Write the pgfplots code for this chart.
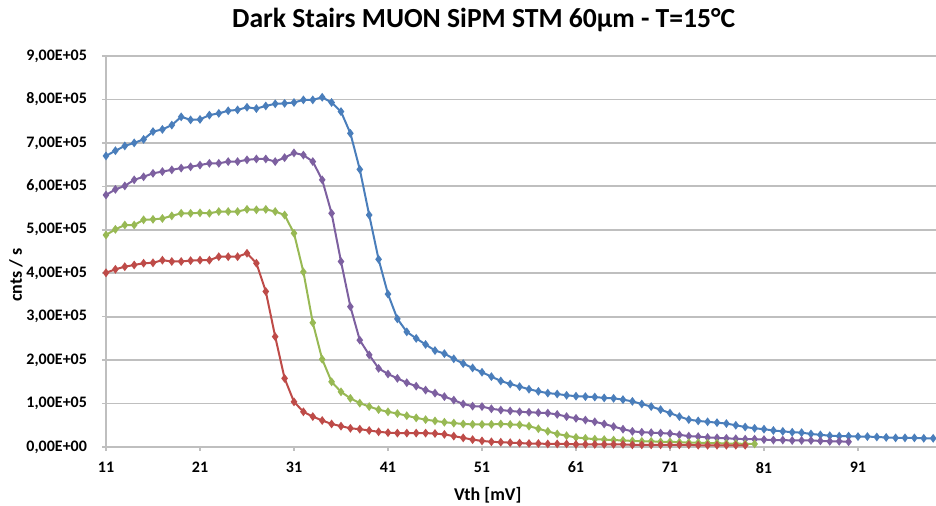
\documentclass[border=0pt]{standalone}
\usepackage{fontspec}
\setmainfont{Carlito}
\usepackage{pgfplots}
\usepackage{pgfplotstable}
\pgfplotsset{compat=1.18}

\definecolor{sblue}{HTML}{4A7EBB}
\definecolor{spurple}{HTML}{7D60A0}
\definecolor{sgreen}{HTML}{98B954}
\definecolor{sred}{HTML}{BE4B48}
\definecolor{gridgray}{HTML}{BFBFBF}

% Vth [mV]  cnts/s
\pgfplotstableread{
x y
11 6.70e5
12 6.82e5
13 6.93e5
14 7.00e5
15 7.08e5
16 7.26e5
17 7.31e5
18 7.41e5
19 7.60e5
20 7.53e5
21 7.54e5
22 7.64e5
23 7.68e5
24 7.74e5
25 7.76e5
26 7.82e5
27 7.79e5
28 7.85e5
29 7.90e5
30 7.91e5
31 7.93e5
32 7.99e5
33 7.99e5
34 8.05e5
35 7.93e5
36 7.72e5
37 7.22e5
38 6.39e5
39 5.34e5
40 4.32e5
41 3.52e5
42 2.95e5
43 2.65e5
44 2.50e5
45 2.36e5
46 2.22e5
47 2.15e5
48 2.03e5
49 1.92e5
50 1.82e5
51 1.72e5
52 1.62e5
53 1.52e5
54 1.45e5
55 1.39e5
56 1.33e5
57 1.28e5
58 1.24e5
59 1.22e5
60 1.19e5
61 1.17e5
62 1.16e5
63 1.15e5
64 1.13e5
65 1.12e5
66 1.09e5
67 1.05e5
68 0.99e5
69 0.93e5
70 0.86e5
71 0.78e5
72 0.70e5
73 0.63e5
74 0.60e5
75 0.58e5
76 0.56e5
77 0.54e5
78 0.50e5
79 0.46e5
80 0.43e5
81 0.41e5
82 0.38e5
83 0.36e5
84 0.34e5
85 0.33e5
86 0.30e5
87 0.28e5
88 0.26e5
89 0.25e5
90 0.25e5
91 0.24e5
92 0.24e5
93 0.23e5
94 0.22e5
95 0.21e5
96 0.21e5
97 0.21e5
98 0.20e5
99 0.20e5
}\blueT

\pgfplotstableread{
x y
11 5.80e5
12 5.93e5
13 6.01e5
14 6.15e5
15 6.22e5
16 6.30e5
17 6.34e5
18 6.38e5
19 6.42e5
20 6.45e5
21 6.49e5
22 6.53e5
23 6.53e5
24 6.57e5
25 6.57e5
26 6.61e5
27 6.63e5
28 6.63e5
29 6.57e5
30 6.66e5
31 6.77e5
32 6.72e5
33 6.57e5
34 6.15e5
35 5.38e5
36 4.27e5
37 3.23e5
38 2.46e5
39 2.12e5
40 1.81e5
41 1.68e5
42 1.58e5
43 1.48e5
44 1.40e5
45 1.31e5
46 1.24e5
47 1.16e5
48 1.08e5
49 0.99e5
50 0.94e5
51 0.93e5
52 0.88e5
53 0.85e5
54 0.83e5
55 0.81e5
56 0.80e5
57 0.79e5
58 0.78e5
59 0.75e5
60 0.70e5
61 0.66e5
62 0.62e5
63 0.58e5
64 0.53e5
65 0.47e5
66 0.41e5
67 0.36e5
68 0.34e5
69 0.33e5
70 0.32e5
71 0.31e5
72 0.28e5
73 0.25e5
74 0.24e5
75 0.22e5
76 0.21e5
77 0.20e5
78 0.19e5
79 0.18e5
80 0.18e5
81 0.17e5
82 0.16e5
83 0.16e5
84 0.15e5
85 0.15e5
86 0.15e5
87 0.14e5
88 0.13e5
89 0.13e5
90 0.12e5
}\purpleT

\pgfplotstableread{
x y
11 4.88e5
12 5.01e5
13 5.11e5
14 5.11e5
15 5.23e5
16 5.24e5
17 5.26e5
18 5.32e5
19 5.38e5
20 5.38e5
21 5.39e5
22 5.38e5
23 5.42e5
24 5.42e5
25 5.42e5
26 5.47e5
27 5.46e5
28 5.47e5
29 5.42e5
30 5.34e5
31 4.92e5
32 4.03e5
33 2.86e5
34 2.02e5
35 1.50e5
36 1.27e5
37 1.12e5
38 1.01e5
39 0.93e5
40 0.86e5
41 0.81e5
42 0.77e5
43 0.72e5
44 0.67e5
45 0.63e5
46 0.60e5
47 0.57e5
48 0.55e5
49 0.53e5
50 0.52e5
51 0.52e5
52 0.52e5
53 0.53e5
54 0.52e5
55 0.51e5
56 0.48e5
57 0.42e5
58 0.36e5
59 0.30e5
60 0.26e5
61 0.22e5
62 0.20e5
63 0.18e5
64 0.17e5
65 0.16e5
66 0.15e5
67 0.14e5
68 0.13e5
69 0.13e5
70 0.12e5
71 0.12e5
72 0.11e5
73 0.10e5
74 0.10e5
75 0.09e5
76 0.09e5
77 0.08e5
78 0.08e5
79 0.07e5
80 0.07e5
}\greenT

\pgfplotstableread{
x y
11 4.01e5
12 4.09e5
13 4.15e5
14 4.19e5
15 4.23e5
16 4.24e5
17 4.30e5
18 4.27e5
19 4.27e5
20 4.29e5
21 4.30e5
22 4.30e5
23 4.38e5
24 4.38e5
25 4.38e5
26 4.46e5
27 4.23e5
28 3.58e5
29 2.54e5
30 1.58e5
31 1.04e5
32 0.81e5
33 0.70e5
34 0.61e5
35 0.53e5
36 0.48e5
37 0.43e5
38 0.41e5
39 0.38e5
40 0.35e5
41 0.33e5
42 0.32e5
43 0.32e5
44 0.32e5
45 0.32e5
46 0.31e5
47 0.29e5
48 0.25e5
49 0.21e5
50 0.17e5
51 0.14e5
52 0.12e5
53 0.11e5
54 0.10e5
55 0.09e5
56 0.08e5
57 0.08e5
58 0.07e5
59 0.07e5
60 0.07e5
61 0.06e5
62 0.06e5
63 0.06e5
64 0.06e5
65 0.06e5
66 0.06e5
67 0.05e5
68 0.05e5
69 0.05e5
70 0.05e5
71 0.05e5
72 0.05e5
73 0.05e5
74 0.04e5
75 0.04e5
76 0.04e5
77 0.04e5
78 0.04e5
79 0.04e5
}\redT

\begin{document}
\begin{tikzpicture}
\path[use as bounding box] (-53pt,-29.5pt) rectangle (415pt,223.5pt);
\begin{axis}[
    scale only axis,
    width=415pt, height=195.5pt,
    xmin=11, xmax=99.3,
    ymin=0, ymax=9e5,
    clip=false,
    axis lines=left,
    axis line style={draw=gridgray, line width=0.9pt, -},
    xtick={11,21,...,91},
    xticklabels={11,21,31,41,51,61,71,81,91},
    ytick={0,1e5,2e5,3e5,4e5,5e5,6e5,7e5,8e5,9e5},
    yticklabels={{0,00E+00},{1,00E+05},{2,00E+05},{3,00E+05},{4,00E+05},{5,00E+05},{6,00E+05},{7,00E+05},{8,00E+05},{9,00E+05}},
    scaled y ticks=false,
    tick align=outside,
    major tick length=2pt,
    tick style={draw=gridgray, line width=0.8pt},
    ymajorgrids,
    grid style={draw=gridgray, line width=0.9pt},
    ticklabel style={font=\fontsize{8}{9}\selectfont\bfseries},
    yticklabel style={xshift=-4pt},
    xticklabel style={yshift=-2pt},
    title={Dark Stairs MUON SiPM STM 60µm - T=15°C},
    title style={font=\fontsize{13.8}{15}\selectfont\bfseries, at={(axis description cs:0.455,1)}, anchor=center, yshift=12pt},
    xlabel={Vth [mV]},
    xlabel style={font=\fontsize{9}{10}\selectfont\bfseries, at={(axis description cs:0.46,-0.123)}, anchor=center},
    ylabel={cnts / s},
    ylabel style={font=\fontsize{9}{10}\selectfont\bfseries, at={(axis description cs:-0.1084,0.44)}, anchor=center, rotate=0},
    every axis plot/.append style={line width=1pt, mark=diamond*, mark size=1.4pt},
]
\addplot[color=sblue] table {\blueT};
\addplot[color=spurple] table {\purpleT};
\addplot[color=sgreen] table {\greenT};
\addplot[color=sred] table {\redT};
\end{axis}
\end{tikzpicture}
\end{document}
